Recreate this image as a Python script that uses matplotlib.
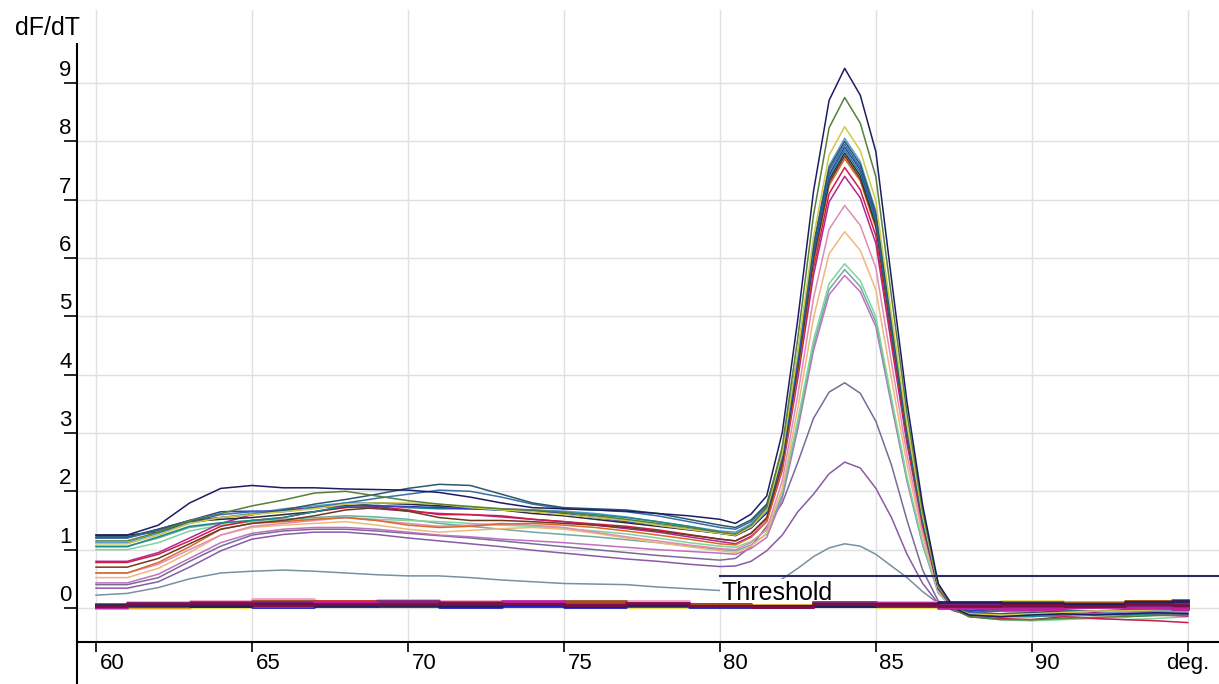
import matplotlib.pyplot as plt

plt.rcParams['font.family'] = ['Liberation Sans', 'DejaVu Sans']

# temperature grid (deg C) shared by the melt curves
temps = [60, 61, 62, 63, 64, 65, 66, 67, 68, 69, 70, 71, 72, 73, 74, 75, 76, 77, 78, 79, 80,
         80.5, 81, 81.5, 82, 82.5, 83, 83.5, 84, 84.5, 85, 85.5, 86, 86.5, 87, 87.5, 88,
         89, 90, 91, 92, 93, 94, 95]

# melt curves with a product peak (dF/dT values)
c_navy = [1.25, 1.25, 1.42, 1.80, 2.05, 2.10, 2.06, 2.06, 2.04, 2.03, 2.02, 1.98, 1.90, 1.80, 1.72, 1.70, 1.68, 1.66, 1.62, 1.58, 1.52,
          1.45, 1.61, 1.92, 3.01, 4.96, 7.14, 8.70, 9.25, 8.79, 7.82, 5.64, 3.52, 1.76, 0.42, 0.00, -0.12,
          -0.15, -0.12, -0.10, -0.12, -0.10, -0.08, -0.10]
c_olive = [1.15, 1.15, 1.30, 1.50, 1.62, 1.75, 1.85, 1.97, 2.00, 1.92, 1.84, 1.78, 1.74, 1.70, 1.68, 1.64, 1.58, 1.52, 1.45, 1.38, 1.30,
           1.27, 1.42, 1.72, 2.77, 4.64, 6.73, 8.23, 8.75, 8.31, 7.39, 5.34, 3.33, 1.66, 0.39, -0.02, -0.15,
           -0.20, -0.20, -0.18, -0.16, -0.15, -0.13, -0.12]
c_yellow = [1.10, 1.10, 1.25, 1.45, 1.55, 1.60, 1.65, 1.70, 1.78, 1.80, 1.80, 1.78, 1.72, 1.68, 1.65, 1.60, 1.55, 1.50, 1.42, 1.35, 1.28,
            1.25, 1.39, 1.67, 2.65, 4.40, 6.36, 7.76, 8.25, 7.84, 6.97, 5.03, 3.14, 1.57, 0.37, -0.01, -0.10,
            -0.12, -0.10, -0.08, -0.05, -0.05, -0.03, -0.02]
c_darkteal = [1.22, 1.22, 1.35, 1.50, 1.55, 1.60, 1.68, 1.78, 1.86, 1.95, 2.05, 2.12, 2.10, 1.95, 1.80, 1.72, 1.70, 1.68, 1.62, 1.52, 1.42,
              1.38, 1.51, 1.78, 2.70, 4.36, 6.21, 7.54, 8.00, 7.60, 6.76, 4.88, 3.04, 1.52, 0.36, 0.00, -0.10,
              -0.10, -0.08, -0.05, -0.05, -0.03, 0.00, 0.02]
c_steel = [1.20, 1.20, 1.33, 1.48, 1.60, 1.65, 1.65, 1.72, 1.80, 1.88, 1.95, 2.02, 2.00, 1.90, 1.78, 1.70, 1.68, 1.65, 1.58, 1.48, 1.38,
           1.35, 1.48, 1.75, 2.67, 4.32, 6.17, 7.49, 7.95, 7.55, 6.72, 4.85, 3.02, 1.51, 0.36, 0.00, -0.08,
           -0.05, -0.02, 0.00, 0.02, 0.05, 0.08, 0.12]
c_blue = [1.20, 1.20, 1.35, 1.50, 1.65, 1.66, 1.66, 1.72, 1.76, 1.75, 1.74, 1.72, 1.70, 1.68, 1.66, 1.62, 1.55, 1.48, 1.42, 1.35, 1.28,
          1.25, 1.38, 1.65, 2.58, 4.24, 6.10, 7.43, 7.90, 7.51, 6.68, 4.82, 3.00, 1.50, 0.36, 0.00, -0.05,
          -0.02, 0.02, 0.04, 0.02, 0.05, 0.06, 0.08]
c_teal = [1.05, 1.05, 1.22, 1.40, 1.46, 1.50, 1.55, 1.65, 1.75, 1.76, 1.72, 1.70, 1.70, 1.68, 1.66, 1.64, 1.60, 1.55, 1.48, 1.40, 1.30,
          1.26, 1.39, 1.66, 2.58, 4.23, 6.07, 7.39, 7.85, 7.46, 6.63, 4.79, 2.98, 1.49, 0.38, 0.02, -0.12,
          -0.15, -0.15, -0.12, -0.10, -0.12, -0.10, -0.10]
c_black = [1.25, 1.25, 1.30, 1.48, 1.52, 1.55, 1.60, 1.65, 1.74, 1.80, 1.78, 1.75, 1.72, 1.68, 1.62, 1.58, 1.52, 1.46, 1.40, 1.34, 1.28,
           1.24, 1.37, 1.63, 2.55, 4.19, 6.03, 7.34, 7.80, 7.41, 6.59, 4.76, 2.96, 1.48, 0.35, 0.00, -0.05,
           0.00, 0.02, 0.00, 0.03, 0.05, 0.04, 0.06]
c_lightblue = [1.12, 1.12, 1.28, 1.45, 1.55, 1.62, 1.70, 1.75, 1.80, 1.80, 1.78, 1.74, 1.72, 1.70, 1.68, 1.66, 1.62, 1.56, 1.48, 1.40, 1.32,
               1.30, 1.44, 1.71, 2.65, 4.34, 6.23, 7.58, 8.05, 7.65, 6.80, 4.91, 3.06, 1.53, 0.38, 0.02, -0.10,
               -0.12, -0.10, -0.08, -0.10, -0.06, -0.05, -0.04]
c_brown = [0.70, 0.70, 0.85, 1.10, 1.35, 1.45, 1.50, 1.58, 1.68, 1.72, 1.66, 1.55, 1.50, 1.50, 1.48, 1.45, 1.42, 1.38, 1.32, 1.25, 1.18,
           1.15, 1.28, 1.55, 2.47, 4.12, 5.97, 7.29, 7.75, 7.36, 6.55, 4.73, 2.95, 1.47, 0.35, 0.00, -0.08,
           -0.05, -0.05, -0.02, 0.00, 0.03, 0.05, 0.04]
c_orange = [0.60, 0.60, 0.78, 1.05, 1.35, 1.45, 1.48, 1.52, 1.55, 1.50, 1.42, 1.38, 1.40, 1.44, 1.45, 1.42, 1.38, 1.32, 1.25, 1.18, 1.10,
            1.08, 1.21, 1.48, 2.40, 4.06, 5.91, 7.24, 7.70, 7.32, 6.51, 4.70, 2.93, 1.46, 0.35, 0.00, -0.05,
            -0.03, 0.00, 0.02, 0.05, 0.04, 0.08, 0.05]
c_crimson = [0.78, 0.78, 0.92, 1.15, 1.40, 1.50, 1.55, 1.65, 1.72, 1.74, 1.68, 1.60, 1.60, 1.58, 1.52, 1.48, 1.44, 1.40, 1.34, 1.26, 1.18,
             1.15, 1.28, 1.53, 2.43, 4.03, 5.82, 7.10, 7.55, 7.17, 6.38, 4.61, 2.87, 1.43, 0.34, -0.02, -0.15,
             -0.18, -0.20, -0.15, -0.18, -0.20, -0.22, -0.25]
c_magenta = [0.80, 0.80, 0.95, 1.20, 1.45, 1.60, 1.68, 1.72, 1.74, 1.70, 1.66, 1.62, 1.60, 1.56, 1.52, 1.48, 1.42, 1.36, 1.30, 1.22, 1.14,
             1.10, 1.23, 1.48, 2.36, 3.94, 5.70, 6.96, 7.40, 7.03, 6.25, 4.51, 2.81, 1.41, 0.33, -0.02, -0.12,
             -0.12, -0.10, -0.12, -0.08, -0.10, -0.12, -0.14]
c_pink = [0.60, 0.60, 0.75, 1.00, 1.25, 1.40, 1.45, 1.50, 1.55, 1.50, 1.45, 1.40, 1.42, 1.45, 1.42, 1.38, 1.30, 1.22, 1.15, 1.08, 1.02,
          1.00, 1.12, 1.35, 2.18, 3.66, 5.31, 6.49, 6.90, 6.56, 5.83, 4.21, 2.62, 1.31, 0.31, -0.02, -0.12,
          -0.15, -0.12, -0.14, -0.12, -0.15, -0.12, -0.10]
c_peach = [0.52, 0.52, 0.68, 0.95, 1.25, 1.38, 1.42, 1.45, 1.48, 1.42, 1.35, 1.30, 1.33, 1.36, 1.38, 1.35, 1.28, 1.20, 1.12, 1.05, 0.98,
           0.95, 1.06, 1.28, 2.05, 3.43, 4.97, 6.07, 6.45, 6.13, 5.45, 3.93, 2.45, 1.23, 0.29, 0.00, -0.10,
           -0.10, -0.08, -0.05, -0.08, -0.05, -0.02, 0.00]
c_lightgreen = [1.00, 1.00, 1.12, 1.32, 1.42, 1.48, 1.50, 1.52, 1.55, 1.52, 1.50, 1.48, 1.45, 1.42, 1.40, 1.36, 1.32, 1.27, 1.20, 1.12, 1.06,
                1.04, 1.14, 1.33, 2.01, 3.23, 4.59, 5.56, 5.90, 5.61, 4.99, 3.60, 2.24, 1.12, 0.27, -0.02, -0.15,
                -0.20, -0.22, -0.20, -0.18, -0.20, -0.18, -0.15]
c_tealgray = [1.06, 1.06, 1.20, 1.38, 1.45, 1.50, 1.52, 1.55, 1.58, 1.56, 1.52, 1.45, 1.40, 1.35, 1.30, 1.26, 1.22, 1.17, 1.12, 1.06, 1.00,
              0.98, 1.08, 1.27, 1.94, 3.15, 4.50, 5.46, 5.80, 5.51, 4.90, 3.54, 2.20, 1.10, 0.26, -0.02, -0.12,
              -0.15, -0.12, -0.10, -0.12, -0.10, -0.08, -0.06]
c_violet = [0.43, 0.43, 0.58, 0.85, 1.12, 1.28, 1.35, 1.38, 1.38, 1.35, 1.30, 1.25, 1.22, 1.18, 1.15, 1.12, 1.08, 1.04, 1.00, 0.97, 0.94,
            0.92, 1.02, 1.21, 1.88, 3.07, 4.41, 5.37, 5.70, 5.42, 4.82, 3.48, 2.17, 1.08, 0.26, 0.00, -0.08,
            -0.10, -0.08, -0.10, -0.06, -0.08, -0.05, -0.06]
c_lowpurple = [0.40, 0.40, 0.52, 0.80, 1.06, 1.25, 1.32, 1.35, 1.35, 1.32, 1.28, 1.24, 1.20, 1.15, 1.10, 1.05, 1.00, 0.95, 0.90, 0.86, 0.82,
               0.85, 1.05, 1.40, 1.80, 2.50, 3.25, 3.70, 3.86, 3.68, 3.20, 2.45, 1.50, 0.65, 0.12, -0.05, -0.12,
               -0.15, -0.12, -0.15, -0.12, -0.10, -0.12, -0.10]
c_purple = [0.34, 0.34, 0.45, 0.70, 0.98, 1.18, 1.26, 1.30, 1.30, 1.26, 1.20, 1.15, 1.10, 1.05, 0.99, 0.94, 0.89, 0.84, 0.80, 0.75, 0.71,
            0.72, 0.80, 0.98, 1.25, 1.65, 1.95, 2.30, 2.50, 2.40, 2.05, 1.55, 0.92, 0.42, 0.08, -0.05, -0.10,
            -0.12, -0.10, -0.08, -0.10, -0.12, -0.10, -0.08]
c_gray = [0.22, 0.25, 0.35, 0.50, 0.60, 0.63, 0.65, 0.63, 0.60, 0.57, 0.55, 0.55, 0.52, 0.48, 0.45, 0.42, 0.41, 0.40, 0.36, 0.33, 0.30,
          0.30, 0.32, 0.38, 0.50, 0.68, 0.88, 1.03, 1.10, 1.06, 0.92, 0.72, 0.52, 0.28, 0.08, -0.02, -0.08,
          -0.10, -0.08, -0.05, -0.08, -0.10, -0.08, -0.06]

# flat (no product) curves on a coarser grid
temps_flat = [60, 62, 64, 66, 68, 70, 72, 74, 76, 78, 80, 82, 84, 86, 88, 90, 92, 94, 95]
z_maroon = [0.04, 0.06, 0.08, 0.05, 0.07, 0.06, 0.09, 0.07, 0.05, 0.08, 0.03, 0.02, 0.06, 0.05, 0.03, 0.05, 0.04, 0.06, 0.05]
z_purple = [0.03, 0.08, 0.05, 0.10, 0.06, 0.12, 0.07, 0.10, 0.06, 0.05, 0.04, 0.03, 0.08, 0.04, 0.06, 0.02, 0.07, 0.03, 0.08]
z_blue = [0.02, 0.03, 0.04, 0.02, 0.05, 0.03, 0.02, 0.04, 0.02, 0.03, 0.02, 0.02, 0.04, 0.03, 0.05, 0.06, 0.04, 0.05, 0.04]
z_red = [0.05, 0.04, 0.10, 0.08, 0.12, 0.05, 0.10, 0.06, 0.08, 0.04, 0.06, 0.03, 0.10, 0.07, 0.02, 0.04, 0.03, 0.02, 0.00]
z_orange = [0.00, 0.02, 0.06, 0.03, 0.08, 0.10, 0.05, 0.08, 0.10, 0.06, 0.04, 0.05, 0.07, 0.05, 0.08, 0.03, 0.10, 0.12, 0.10]
z_pink = [0.06, 0.10, 0.12, 0.15, 0.10, 0.14, 0.12, 0.08, 0.10, 0.12, 0.06, 0.04, 0.09, 0.10, 0.06, 0.08, 0.05, 0.08, 0.06]
z_navy = [0.05, 0.05, 0.03, 0.06, 0.04, 0.05, 0.04, 0.06, 0.03, 0.05, 0.04, 0.03, 0.03, 0.06, 0.10, 0.08, 0.06, 0.10, 0.12]
z_brown = [0.07, 0.09, 0.07, 0.12, 0.09, 0.08, 0.11, 0.09, 0.12, 0.07, 0.05, 0.04, 0.10, 0.08, 0.04, 0.10, 0.08, 0.12, 0.14]
z_magenta = [0.02, 0.05, 0.08, 0.04, 0.10, 0.07, 0.05, 0.12, 0.07, 0.09, 0.03, 0.02, 0.05, 0.09, 0.00, -0.02, 0.02, 0.00, -0.02]
z_yellow = [0.01, 0.00, 0.02, 0.04, 0.03, 0.06, 0.04, 0.03, 0.05, 0.02, 0.01, 0.02, 0.04, 0.02, 0.09, 0.12, 0.10, 0.08, 0.10]

threshold = 0.55
threshold_start = 80

x_ticks = [60, 65, 70, 75, 80, 85, 90, 95]
x_tick_labels = ['60', '65', '70', '75', '80', '85', '90', 'deg.']
y_ticks = [0, 1, 2, 3, 4, 5, 6, 7, 8, 9]

peak_curves = [
    (c_gray, '#7890a0'), (c_purple, '#8a5aa8'), (c_lowpurple, '#7a6a9a'),
    (c_violet, '#c070c0'), (c_tealgray, '#70aaa0'), (c_lightgreen, '#7ed49a'),
    (c_peach, '#f0b87a'), (c_pink, '#e08cb4'), (c_magenta, '#b02890'),
    (c_crimson, '#d01a4a'), (c_orange, '#d86a2a'), (c_brown, '#6b3a1f'),
    (c_lightblue, '#5a9ad0'), (c_black, '#2a2a3a'), (c_teal, '#1a8a8a'),
    (c_blue, '#3040b8'), (c_steel, '#3a6ea5'), (c_darkteal, '#2a5a6a'),
    (c_yellow, '#d4c84a'), (c_olive, '#55803a'), (c_navy, '#1c1c64'),
]
flat_curves = [
    (z_yellow, '#e8e050'), (z_orange, '#e0a020'), (z_pink, '#f0a0d0'),
    (z_blue, '#2020c8'), (z_red, '#d02020'), (z_brown, '#a05020'),
    (z_purple, '#802080'), (z_magenta, '#c020a0'), (z_navy, '#202060'),
    (z_maroon, '#7a1040'),
]

fig = plt.figure(figsize=(12.19, 6.84), dpi=100)
ax = fig.add_axes([77 / 1219, 0, 1 - 77 / 1219, 1 - 10 / 684])
x_lo, x_hi = 59.39, 96.0
y_lo, y_hi = -1.303, 10.25
x_axis_y = -0.583
ax.set_xlim(x_lo, x_hi)
ax.set_ylim(y_lo, y_hi)

# light grid
for t in x_ticks:
    ax.plot([t, t], [x_axis_y, y_hi], color='#e0e0e0', lw=1, zorder=0)
for v in y_ticks:
    ax.axhline(v, color='#e0e0e0', lw=1, zorder=0)

# curves
for vals, col in peak_curves:
    assert len(vals) == len(temps)
    ax.plot(temps, vals, color=col, lw=1.1, zorder=2)
for vals, col in flat_curves:
    assert len(vals) == len(temps_flat)
    ax.plot(temps_flat, vals, color=col, lw=2.0, drawstyle='steps-mid', zorder=4)

# threshold
ax.plot([threshold_start, x_hi], [threshold, threshold], color='#2b2b6b', lw=1.5, zorder=5)
ax.annotate('Threshold', (threshold_start, threshold), xytext=(1.5, -17.3),
            textcoords='offset points', fontsize=18, ha='left', va='baseline',
            bbox=dict(facecolor='white', edgecolor='none', pad=1), zorder=3)

# axes
for s in ['top', 'right']:
    ax.spines[s].set_visible(False)
ax.spines['bottom'].set_position(('data', x_axis_y))
ax.spines['left'].set_bounds(y_lo, 9.67)
ax.spines['left'].set_linewidth(1.5)
ax.spines['bottom'].set_linewidth(1.5)

ax.set_xticks(x_ticks)
ax.set_xticklabels([])
ax.set_yticks(y_ticks)
ax.set_yticklabels([])
ax.tick_params(axis='x', direction='out', length=7, width=1.2)
ax.tick_params(axis='y', direction='out', length=9.5, width=1.2)

for t, lbl in zip(x_ticks, x_tick_labels):
    if lbl == 'deg.':
        ax.annotate(lbl, (t, x_axis_y), xytext=(0, -19.5), textcoords='offset points',
                    ha='center', va='baseline', fontsize=16, annotation_clip=False)
    else:
        ax.annotate(lbl, (t, x_axis_y), xytext=(2.5, -19.5), textcoords='offset points',
                    ha='left', va='baseline', fontsize=16, annotation_clip=False)
for v in y_ticks:
    ax.annotate(str(v), (x_lo, v), xytext=(-4, 5), textcoords='offset points',
                ha='right', va='baseline', fontsize=16, annotation_clip=False)

fig.text(15 / 1219, 1 - 35 / 684, 'dF/dT', fontsize=18, ha='left', va='baseline')

fig.savefig('out.png', dpi=100)
